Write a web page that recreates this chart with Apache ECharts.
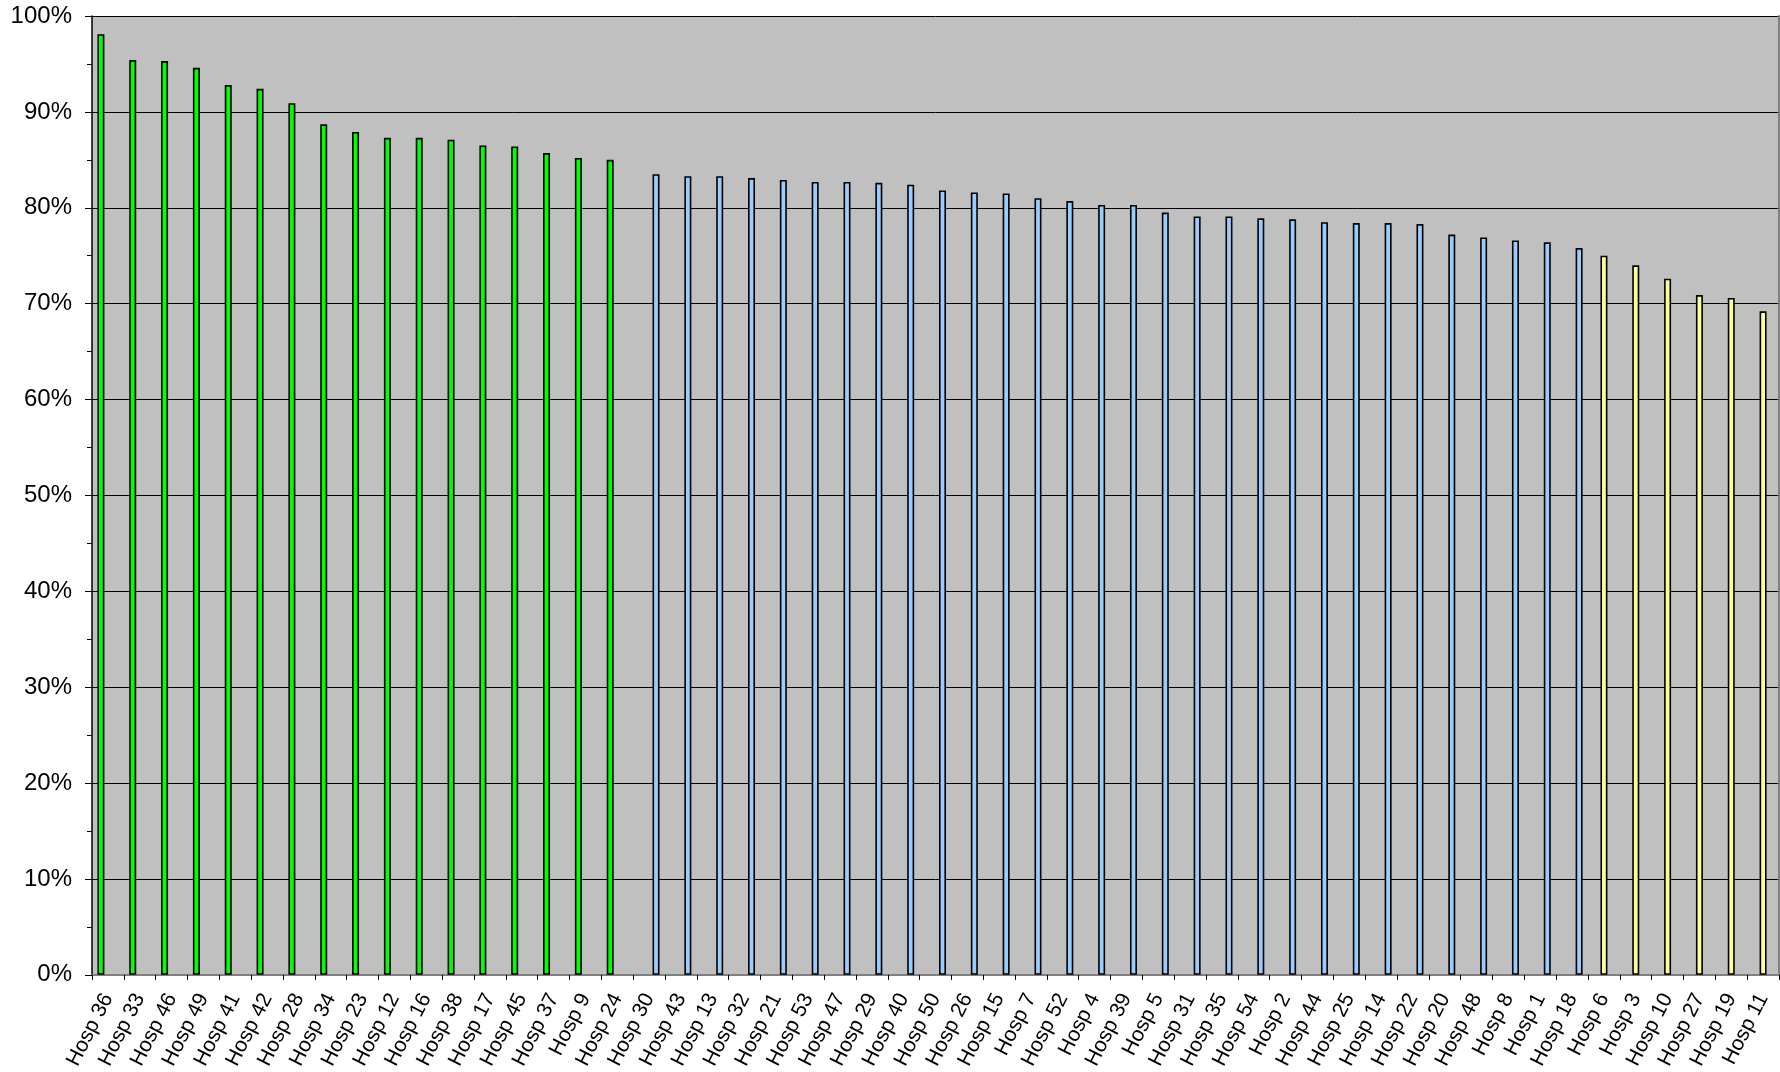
<!DOCTYPE html>
<html>
<head>
<meta charset="utf-8">
<style>
  html, body { margin: 0; padding: 0; background: #ffffff; }
  #chart { width: 1780px; height: 1072px; }
</style>
<script src="https://cdn.jsdelivr.net/npm/echarts@6/dist/echarts.min.js"></script>
</head>
<body>
<div id="chart"></div>
<script>
// Rates (%) per hospital, sorted high to low, in three bands
const highNames = ['Hosp 36', 'Hosp 33', 'Hosp 46', 'Hosp 49', 'Hosp 41', 'Hosp 42', 'Hosp 28', 'Hosp 34', 'Hosp 23',
  'Hosp 12', 'Hosp 16', 'Hosp 38', 'Hosp 17', 'Hosp 45', 'Hosp 37', 'Hosp 9', 'Hosp 24'];
const highValues = [98.1, 95.4, 95.3, 94.6, 92.8, 92.4, 90.9, 88.7, 87.9,
  87.3, 87.3, 87.1, 86.5, 86.4, 85.7, 85.2, 85.0];

const midNames = ['Hosp 30', 'Hosp 43', 'Hosp 13', 'Hosp 32', 'Hosp 21', 'Hosp 53', 'Hosp 47', 'Hosp 29', 'Hosp 40',
  'Hosp 50', 'Hosp 26', 'Hosp 15', 'Hosp 7', 'Hosp 52', 'Hosp 4', 'Hosp 39', 'Hosp 5', 'Hosp 31', 'Hosp 35',
  'Hosp 54', 'Hosp 2', 'Hosp 44', 'Hosp 25', 'Hosp 14', 'Hosp 22', 'Hosp 20', 'Hosp 48', 'Hosp 8', 'Hosp 1', 'Hosp 18'];
const midValues = [83.5, 83.3, 83.3, 83.1, 82.9, 82.7, 82.7, 82.6, 82.4,
  81.8, 81.6, 81.5, 81.0, 80.7, 80.3, 80.3, 79.5, 79.1, 79.1,
  78.9, 78.8, 78.5, 78.4, 78.4, 78.3, 77.2, 76.9, 76.6, 76.4, 75.8];

const lowNames = ['Hosp 6', 'Hosp 3', 'Hosp 10', 'Hosp 27', 'Hosp 19', 'Hosp 11'];
const lowValues = [75.0, 74.0, 72.6, 70.9, 70.6, 69.2];

const yTicks = { min: 0, max: 100, step: 10 };

// Category list and one sparse data column per band
const categories = highNames.concat(midNames, lowNames);
const n = categories.length;
function column(names, values) {
  const out = new Array(n).fill(null);
  names.forEach((name, i) => { out[categories.indexOf(name)] = values[i]; });
  return out;
}

const font = 'Liberation Sans, Arial, sans-serif';

const barBase = {
  type: 'bar',
  barWidth: 7,
  barGap: '0%',
  xAxisIndex: 0,
  yAxisIndex: 0,
  emphasis: { disabled: true }
};
function bandStyle(color) {
  return { color: color, borderColor: '#000000', borderWidth: 1.6 };
}

const chart = echarts.init(document.getElementById('chart'), null, { renderer: 'canvas' });
chart.setOption({
  animation: false,
  backgroundColor: '#ffffff',
  grid: {
    left: 92, right: 1, top: 16, bottom: 95,
    show: true, backgroundColor: '#C0C0C0', borderWidth: 0
  },
  xAxis: [
    {
      type: 'category',
      data: categories,
      boundaryGap: true,
      axisLine: { show: true, lineStyle: { color: '#000000', width: 1.5 } },
      axisTick: { show: true, interval: 0, length: 5, lineStyle: { color: '#000000' } },
      axisLabel: {
        interval: 0, rotate: 63, margin: 20,
        fontSize: 21, fontFamily: font, color: '#000000'
      },
      splitLine: { show: false }
    },
    {
      type: 'category',
      data: categories,
      position: 'top',
      axisLine: { show: true, lineStyle: { color: '#808080', width: 2 } },
      axisTick: { show: false },
      axisLabel: { show: false },
      splitLine: { show: false }
    }
  ],
  yAxis: [
    {
      type: 'value',
      min: yTicks.min, max: yTicks.max, interval: yTicks.step,
      axisLine: { show: true, lineStyle: { color: '#000000', width: 1.5 } },
      axisTick: { show: true, length: 7, lineStyle: { color: '#000000' } },
      minorTick: { show: true, splitNumber: 2, length: 5, lineStyle: { color: '#000000' } },
      splitLine: { show: true, lineStyle: { color: '#000000', width: 1 } },
      axisLabel: {
        formatter: '{value}%', margin: 20,
        fontSize: 24, fontFamily: font, color: '#000000'
      }
    },
    {
      type: 'value',
      position: 'right',
      min: yTicks.min, max: yTicks.max, interval: yTicks.step,
      axisLine: { show: true, lineStyle: { color: '#808080', width: 2 } },
      axisTick: { show: false },
      axisLabel: { show: false },
      splitLine: { show: false }
    }
  ],
  series: [
    Object.assign({}, barBase, { name: 'high', data: column(highNames, highValues), itemStyle: bandStyle('#00FF00') }),
    Object.assign({}, barBase, { name: 'low', data: column(lowNames, lowValues), itemStyle: bandStyle('#FFFF99') }),
    Object.assign({}, barBase, { name: 'mid', data: column(midNames, midValues), itemStyle: bandStyle('#99CCFF') })
  ]
});
</script>
</body>
</html>
